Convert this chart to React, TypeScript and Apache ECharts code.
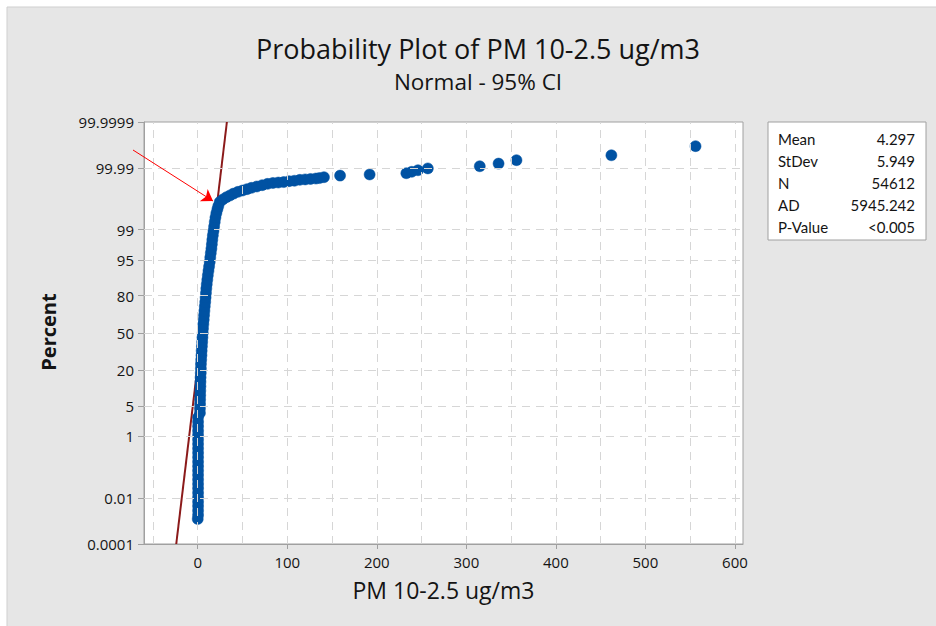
import React, { useEffect, useRef } from "react";
import * as echarts from "echarts";

// ---- data ----
const yTickLabels = ["0.0001", "0.01", "1", "5", "20", "50", "80", "95", "99", "99.99", "99.9999"];
const yTickPct = [0.0001, 0.01, 1, 5, 20, 50, 80, 95, 99, 99.99, 99.9999];
const xTickValues = [0, 100, 200, 300, 400, 500, 600];
const xGridValues = [-50, 0, 50, 100, 150, 200, 250, 300, 350, 400, 450, 500, 550, 600];

const pmValues = [
  0, 0.4, 0.4, 0.4, 0.4, 0.4, 0.4, 0.4, 0.4, 0.4, 0.4, 0.4, 0.4, 0.4, 0.4, 0.4, 0.4, 0.4, 0.4, 0.4, 0.4, 0.4, 0.4, 0.4,
  2.5, 2.5, 2.6, 2.7, 2.8, 2.9, 3.0, 3.1, 3.2, 3.4, 3.5, 3.6, 3.9, 4.2, 4.4, 4.7, 5.0, 5.3, 5.6, 5.9, 6.3, 6.7, 7.1, 7.5,
  7.9, 8.4, 8.8, 9.2, 9.6, 10.1, 10.7, 11.3, 12.0, 12.7, 13.4, 14.0, 14.6, 15.3, 15.8, 16.3, 16.9, 17.6, 18.3, 19.0, 19.8, 20.8,
  22, 23, 24.6, 28, 32, 36, 40, 45, 50, 55, 60, 66, 72, 78, 84, 90, 96, 102, 108, 114, 120, 126, 132, 136, 141,
  159, 192, 233, 239, 246, 257, 315, 336, 356, 462, 556,
];
const pctValues = [
  0.0014, 0.00207, 0.00317, 0.00481, 0.00723, 0.0108, 0.0159, 0.0233, 0.0337, 0.0483, 0.0687, 0.0968, 0.135, 0.187, 0.256,
  0.347, 0.466, 0.621, 0.82, 1.072, 1.39, 1.786, 2.275, 2.872,
  3.593, 4.457, 5.48, 6.681, 8.076, 9.68, 11.51, 13.57, 15.87, 18.41, 21.19, 24.2, 27.43, 30.85, 34.46, 38.21, 42.07, 46.02,
  50, 53.98, 57.93, 61.79, 65.54, 69.15, 72.57, 75.8, 78.81, 81.59, 84.13, 86.43, 88.49, 90.32, 91.92, 93.32, 94.52, 95.54,
  96.41, 97.13, 97.725, 98.214, 98.61, 98.928, 99.18, 99.379, 99.534, 99.653,
  99.7365, 99.788, 99.841, 99.869, 99.889, 99.903, 99.9155, 99.9264, 99.9336, 99.9402, 99.9462, 99.9517, 99.9566, 99.961,
  99.9638, 99.965, 99.9663, 99.9687, 99.9698, 99.972, 99.973, 99.974, 99.9749, 99.9758, 99.9776,
  99.98041, 99.98224, 99.98407, 99.9859, 99.98773, 99.98956, 99.99139, 99.99322, 99.99506, 99.99689, 99.99872,
];

const statLabels = ["Mean", "StDev", "N", "AD", "P-Value"];
const statValues = ["4.297", "5.949", "54612", "5945.242", "<0.005"];
const fitMean = 4.297;
const fitSd = 5.949;

// inverse standard normal CDF (Acklam)
function normInv(p: number): number {
  const a = [-3.969683028665376e1, 2.209460984245205e2, -2.759285104469687e2, 1.38357751867269e2, -3.066479806614716e1, 2.506628277459239];
  const b = [-5.447609879822406e1, 1.615858368580409e2, -1.556989798598866e2, 6.680131188771972e1, -1.328068155288572e1];
  const c = [-7.784894002430293e-3, -3.223964580411365e-1, -2.400758277161838, -2.549732539343734, 4.374664141464968, 2.938163982698783];
  const d = [7.784695709041462e-3, 3.224671290700398e-1, 2.445134137142996, 3.754408661907416];
  const pl = 0.02425;
  if (p < pl) {
    const q = Math.sqrt(-2 * Math.log(p));
    return (((((c[0] * q + c[1]) * q + c[2]) * q + c[3]) * q + c[4]) * q + c[5]) / ((((d[0] * q + d[1]) * q + d[2]) * q + d[3]) * q + 1);
  }
  if (p <= 1 - pl) {
    const q = p - 0.5;
    const r = q * q;
    return ((((((a[0] * r + a[1]) * r + a[2]) * r + a[3]) * r + a[4]) * r + a[5]) * q) / (((((b[0] * r + b[1]) * r + b[2]) * r + b[3]) * r + b[4]) * r + 1);
  }
  const q = Math.sqrt(-2 * Math.log(1 - p));
  return -(((((c[0] * q + c[1]) * q + c[2]) * q + c[3]) * q + c[4]) * q + c[5]) / ((((d[0] * q + d[1]) * q + d[2]) * q + d[3]) * q + 1);
}
const zOf = (pct: number) => normInv(pct / 100);

const FONT = "'Open Sans', 'Noto Sans', sans-serif";
const BOX_FONT = "Lato, 'Open Sans', sans-serif";
const INK = "#141414";
const DOT = "#0052a3";

export default function App() {
  const ref = useRef<HTMLDivElement>(null);
  useEffect(() => {
    if (!ref.current) return;
    const chart = echarts.init(ref.current, undefined, { renderer: "svg" });
    const yTickZ = yTickPct.map(zOf);
    const zMin = yTickZ[0];
    const zMax = yTickZ[yTickZ.length - 1];
    const points = pmValues.map((x, i) => [x, zOf(pctValues[i])]);
    const fitData = [
      [fitMean + fitSd * zMin, zMin],
      [fitMean + fitSd * zMax, zMax],
    ];
    const gridStyle = { color: "#d6d6d6", type: [8, 6] as any, width: 1 };
    const gridLines = [
      ...xGridValues.map((v) => ({ xAxis: v })),
      ...yTickZ.slice(1, -1).map((v) => ({ yAxis: v })),
    ];
    const option: any = {
      animation: false,
      backgroundColor: "#ffffff",
      textStyle: { fontFamily: FONT },
      grid: {
        left: 144,
        top: 122,
        right: 193,
        bottom: 82,
        show: true,
        backgroundColor: "#ffffff",
        borderColor: "#a0a0a0",
        borderWidth: 1,
      },
      xAxis: {
        type: "value",
        min: -60,
        max: 609,
        axisLine: { onZero: false, lineStyle: { color: "#a0a0a0" } },
        axisTick: { show: true, length: 5, customValues: xTickValues, lineStyle: { color: "#a0a0a0" } },
        axisLabel: { customValues: xTickValues, color: INK, fontSize: 15, margin: 10, fontFamily: FONT },
        splitLine: { show: false },
        name: "PM 10-2.5 ug/m3",
        nameLocation: "middle",
        nameGap: 34,
        nameTextStyle: { fontSize: 23, color: INK, fontFamily: FONT },
      },
      yAxis: {
        type: "value",
        min: zMin,
        max: zMax,
        axisLine: { show: true, onZero: false, lineStyle: { color: "#a0a0a0" } },
        axisTick: { show: true, length: 6, customValues: yTickZ, lineStyle: { color: "#a0a0a0" } },
        axisLabel: {
          customValues: yTickZ,
          color: INK,
          fontSize: 15,
          margin: 10,
          fontFamily: FONT,
          formatter: (v: number) => {
            let best = 0;
            yTickZ.forEach((z, i) => {
              if (Math.abs(z - v) < Math.abs(yTickZ[best] - v)) best = i;
            });
            return yTickLabels[best];
          },
        },
        splitLine: { show: false },
      },
      graphic: [
        { type: "rect", z: -10, shape: { x: 7, y: 7, width: 940, height: 640 }, style: { fill: "#e6e6e6", stroke: "#cfcfcf", lineWidth: 1 } },
        { type: "text", x: 478, y: 48, style: { text: "Probability Plot of PM 10-2.5 ug/m3", fontSize: 27, fontFamily: FONT, fill: INK, align: "center", verticalAlign: "middle" } },
        { type: "text", x: 478, y: 81, style: { text: "Normal - 95% CI", fontSize: 22.5, fontFamily: FONT, fill: INK, align: "center", verticalAlign: "middle" } },
        { type: "text", x: 48, y: 332, rotation: Math.PI / 2, style: { text: "Percent", fontSize: 20, fontWeight: "bold", fontFamily: FONT, fill: INK, align: "center", verticalAlign: "middle" } },
        { type: "rect", shape: { x: 768, y: 122, width: 158, height: 118 }, style: { fill: "#ffffff", stroke: "#a0a0a0", lineWidth: 1 } },
        ...statLabels.map((t, i) => ({ type: "text", x: 778, y: 139 + i * 22, style: { text: t, fontSize: 15, fontFamily: BOX_FONT, fill: INK, align: "left", verticalAlign: "middle" } })),
        ...statValues.map((t, i) => ({ type: "text", x: 915, y: 139 + i * 22, style: { text: t, fontSize: 15, fontFamily: BOX_FONT, fill: INK, align: "right", verticalAlign: "middle" } })),
      ],
      series: [
        {
          type: "line",
          z: 1,
          data: fitData,
          symbol: "none",
          lineStyle: { color: "#8b1a1a", width: 2 },
          markLine: {
            silent: true,
            symbol: "none",
            label: { show: false },
            lineStyle: gridStyle,
            data: gridLines,
          },
        },
        {
          type: "scatter",
          z: 3,
          data: points,
          symbol: "circle",
          symbolSize: 11,
          itemStyle: { color: DOT, opacity: 1, borderColor: DOT, borderWidth: 0.5 },
          markLine: {
            silent: true,
            label: { show: false },
            lineStyle: { color: "#ff0000", width: 1, type: "solid" },
            symbolSize: 11,
            data: [[{ x: 133, y: 150, symbol: "none" }, { x: 213, y: 201, symbol: "arrow" }]],
          },
        },
      ],
    };
    chart.setOption(option);
    return () => chart.dispose();
  }, []);
  return <div ref={ref} style={{ position: "absolute", left: 0, top: 0, width: 936, height: 626 }} />;
}
